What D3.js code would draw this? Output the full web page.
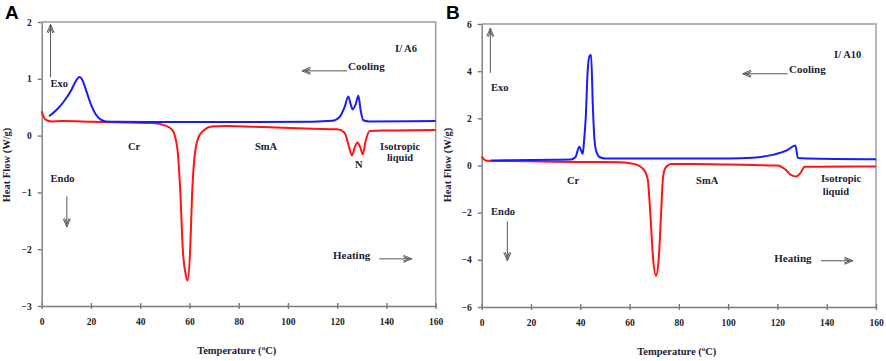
<!DOCTYPE html>
<html>
<head>
<meta charset="utf-8">
<script src="https://cdn.jsdelivr.net/npm/d3@7"></script>
<style>
  body { margin: 0; background: #fff; }
  svg text { font-family: "Liberation Serif", "DejaVu Serif", serif; font-weight: bold; fill: #1d1d38; }
  .axis path, .axis line { stroke: #7a7a7a; stroke-width: 1.4; }
  .axis text { font-size: 9.5px; fill: #222; }
</style>
</head>
<body>
<div id="chart"></div>
<script>
// ---- data : [temperature °C, heat flow W/g]
const coolA = [[3,0.34],[6,0.45],[9,0.6],[12,0.8],[14,0.97],[15.3,1.03],[16.5,0.98],[18,0.8],[20,0.55],[22,0.37],
  [24,0.28],[26,0.25],[30,0.245],[50,0.24],[80,0.24],[110,0.245],[118,0.26],[121,0.33],[123,0.5],[124.5,0.69],
  [125.5,0.55],[126.3,0.46],[127.5,0.55],[128.6,0.7],[129.5,0.45],[130.6,0.27],[133,0.25],[160,0.255]];
const heatA = [[0,0.43],[0.8,0.33],[2,0.27],[4,0.25],[8,0.255],[20,0.245],[35,0.23],[45,0.22],[50,0.18],[53,0.1],
  [55,-0.2],[56.3,-1.0],[57.3,-2.0],[58.5,-2.45],[59.3,-2.55],[60.3,-2.0],[61.1,-1.0],[62,-0.4],[63.5,-0.05],
  [66,0.1],[69,0.16],[75,0.17],[90,0.15],[110,0.12],[120,0.11],[123,0.05],[124.8,-0.2],[126,-0.35],[127.2,-0.2],
  [128.2,-0.12],[129.3,-0.2],[130.4,-0.33],[131.5,-0.1],[133.3,0.08],[140,0.09],[160,0.1]];
const coolB = [[3.8,0.21],[10,0.22],[30,0.24],[36,0.25],[38,0.35],[39.6,0.8],[41,0.5],[41.5,1.0],[42.2,2.0],[43,4.0],
  [43.8,4.65],[44.4,4.69],[45.1,2.5],[45.7,1.2],[46.5,0.6],[48,0.35],[50,0.3],[70,0.3],[100,0.3],[110,0.33],
  [118,0.45],[124,0.65],[127.3,0.85],[128.3,0.32],[132,0.3],[160,0.27]];
const heatB = [[0,0.38],[1,0.25],[2,0.2],[10,0.19],[30,0.16],[45,0.15],[56,0.14],[60,0.1],[63,0.03],[65,-0.1],
  [66.5,-0.3],[67.4,-0.6],[68.4,-2.0],[69.6,-4.0],[70.7,-4.67],[71.8,-4.0],[72.8,-2.0],[73.5,-0.6],[74.3,-0.15],
  [75.5,0.0],[77,0.06],[85,0.06],[100,0.04],[110,0.02],[120,0.0],[123,-0.15],[125.5,-0.4],[127.6,-0.47],
  [129.5,-0.3],[131,-0.05],[135,-0.05],[160,-0.04]];

const xTicks = [0, 20, 40, 60, 80, 100, 120, 140, 160];
const yTicksA = [-3, -2, -1, 0, 1, 2];
const yTicksB = [-6, -4, -2, 0, 2, 4, 6];

// labels: [text, T, value]
const labelsA = [["I/ A6",143.5,1.47],["Cooling",124.4,1.15],["Exo",3.6,0.85],["Cr",35,-0.25],["SmA",86.6,-0.25],
  ["Isotropic",137.4,-0.25],["liquid",140.2,-0.44],["N",127.2,-0.57],["Endo",3.6,-0.82],["Heating",118.3,-2.18]];
const labelsB = [["I/ A10",143,4.56],["Cooling",124.7,3.93],["Exo",3.8,3.17],["Cr",34.6,-0.78],["SmA",87,-0.78],
  ["Isotropic",137.7,-0.69],["liquid",138.4,-1.24],["Endo",3.8,-2.09],["Heating",118.7,-4.08]];
// arrows: [T from, v from, T to, v to]
const arrowsA = [[124,1.14,105.7,1.14],[3.6,1.03,3.6,1.96],[10.2,-1.07,10.2,-1.61],[137,-2.17,150.3,-2.17]];
const arrowsB = [[124.2,3.89,105.9,3.89],[3.5,3.93,3.5,5.83],[10.4,-2.37,10.4,-4.04],[137.7,-4.04,150.6,-4.04]];

const svg = d3.select("#chart").append("svg").attr("width", 886).attr("height", 361);

function panel(p) {
  const x = d3.scaleLinear().domain([0, 160]).range([p.l, p.r]);
  const y = d3.scaleLinear().domain(p.yDom).range([p.b, p.t]);
  const g = svg.append("g");

  // frame top/right
  g.append("path").attr("d", `M${p.l},${p.t}H${p.r}V${p.b}`)
    .attr("fill", "none").attr("stroke", "#9a9a9a").attr("stroke-width", 1.4);

  const ax = g.append("g").attr("class", "axis").attr("transform", `translate(0,${p.b})`)
    .call(d3.axisBottom(x).tickValues(xTicks).tickSize(3).tickSizeOuter(0).tickPadding(9));
  ax.selectAll(".tick line").attr("y1", -3);
  g.append("g").attr("class", "axis").attr("transform", `translate(${p.l},0)`)
    .call(d3.axisLeft(y).tickValues(p.yTicks).tickSize(4).tickSizeOuter(0).tickPadding(6)
      .tickFormat(d3.format("d")));

  const line = d3.line().x(d => x(d[0])).y(d => y(d[1])).curve(d3.curveMonotoneX);
  g.append("path").datum(p.heat).attr("d", line).attr("fill", "none").attr("stroke", "#ff1414").attr("stroke-width", 2);
  g.append("path").datum(p.cool).attr("d", line).attr("fill", "none").attr("stroke", "#1a1aff").attr("stroke-width", 2);

  g.selectAll("text.lab").data(p.labels).join("text").attr("class", "lab")
    .attr("x", d => x(d[1])).attr("y", d => y(d[2]))
    .attr("font-size", d => (d[0] === "Cooling" || d[0] === "Heating") ? 11 : 10.5).text(d => d[0]);

  p.arrows.forEach(a => {
    const x1 = x(a[0]), y1 = y(a[1]), x2 = x(a[2]), y2 = y(a[3]);
    const ang = Math.atan2(y2 - y1, x2 - x1), L = 9;
    let d = `M${x1},${y1}L${x2},${y2}`;
    [-0.4, 0.4].forEach(o => {
      d += `M${x2},${y2}L${x2 - L * Math.cos(ang + o)},${y2 - L * Math.sin(ang + o)}`;
    });
    [-0.25, 0.25].forEach(o => {
      d += `M${x2 - 3 * Math.cos(ang)},${y2 - 3 * Math.sin(ang)}L${x2 - L * Math.cos(ang + o)},${y2 - L * Math.sin(ang + o)}`;
    });
    g.append("path").attr("d", d).attr("fill", "none").attr("stroke", "#555").attr("stroke-width", 1);
  });

  // axis titles
  g.append("text").attr("transform", `translate(${p.yTitleX},165) rotate(-90)`)
    .attr("text-anchor", "middle").attr("font-size", 10.5).text("Heat Flow (W/g)");
  const xt = g.append("text").attr("x", (p.l + p.r) / 2 - 2).attr("y", p.b + 48)
    .attr("text-anchor", "middle").attr("font-size", 10.5);
  xt.append("tspan").text("Temperature (");
  xt.append("tspan").attr("dy", -4).attr("font-size", 7).text("o");
  xt.append("tspan").attr("dy", 4).text("C)");

  svg.append("text").attr("x", p.tagX).attr("y", 19).attr("font-size", 19)
    .style("font-family", "'Liberation Sans', Arial, sans-serif").style("fill", "#000").text(p.tag);
}

panel({ l: 41.7, r: 435.7, t: 22, b: 306, yDom: [-3, 2], yTicks: yTicksA, cool: coolA, heat: heatA,
  labels: labelsA, arrows: arrowsA, yTitleX: 10, tag: "A", tagX: 5 });
panel({ l: 481.7, r: 876, t: 24, b: 307, yDom: [-6, 6], yTicks: yTicksB, cool: coolB, heat: heatB,
  labels: labelsB, arrows: arrowsB, yTitleX: 451, tag: "B", tagX: 446 });
</script>
</body>
</html>
